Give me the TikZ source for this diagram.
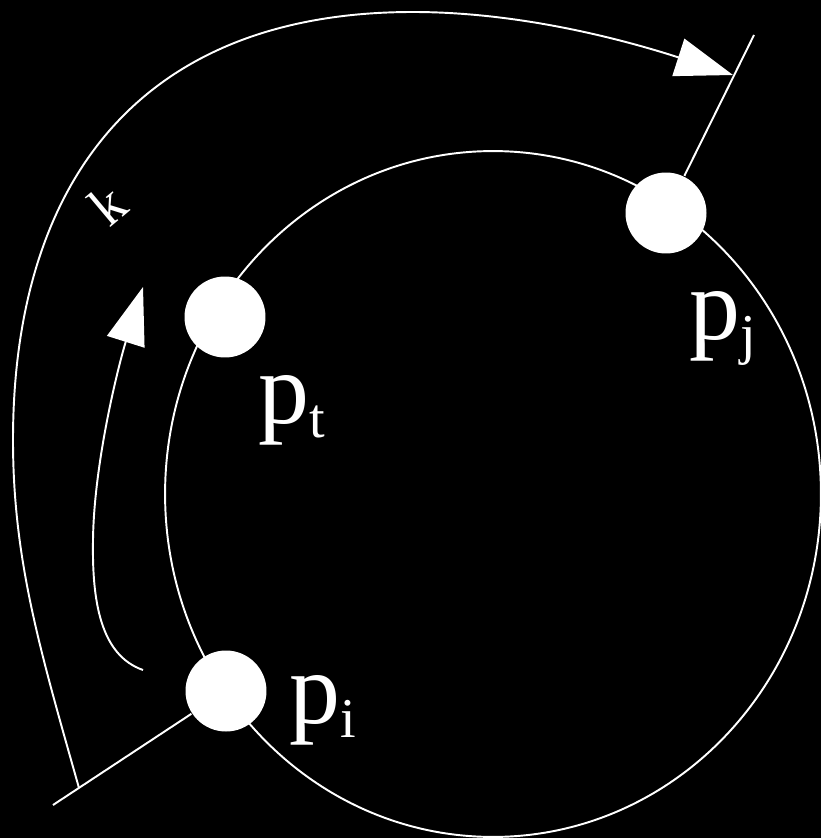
\documentclass[tikz,border=0pt]{standalone}
\usepackage{fontspec}
\setmainfont{Liberation Serif}
\usetikzlibrary{arrows.meta}
\newcommand{\lowidx}[1]{\raisebox{-0.3ex}{\fontsize{32}{34}\selectfont #1}}
\tikzset{
  every picture/.style={line width=1.1pt},
  site/.style={circle, fill=white, minimum size=1.62cm, inner sep=0pt},
  lbl/.style={text=white, inner sep=0pt, font=\fontsize{58}{60}\selectfont},
  track/.style={draw=white, line width=1.1pt},
  arrow/.style={track, -{Triangle[length=1.15cm, width=0.78cm]}},
}

\begin{document}
\begin{tikzpicture}[x=0.02cm, y=-0.02cm]
  \fill[black] (0,0) rectangle (821,838);
  \useasboundingbox (0,0) rectangle (821,838);
  % the ring
  \draw[track] (493,494) ellipse [x radius=6.56cm, y radius=6.86cm];
  \node[site] (pt) at (225,317) {};
  \node[site] (pj) at (666,213) {};
  \node[site] (pi) at (226,691) {};
  \coordinate (tailI) at (53,805);
  \coordinate (tickJ) at (754,35);
  \draw[track] (pi) -- (tailI);
  \draw[track] (pj) -- (tickJ);
  % k steps round the outside
  \draw[arrow] (79,788) .. controls (40,650) and (13,560) .. (13,440)
    .. controls (13,190) and (133,12) .. (413,12)
    .. controls (530,12) and (640,45) .. (733,75);
  \draw[arrow] (143,670) .. controls (100,655) and (92,600) .. (93,540)
    .. controls (94,460) and (120,360) .. (143,287);
  \node[lbl] (lt) at (292,410) {p\lowidx{t}};
  \node[lbl] (lj) at (723,328) {p\lowidx{j}};
  \node[lbl] (li) at (323,710) {p\lowidx{i}};
  \node[lbl, font=\fontsize{32}{34}\selectfont, rotate=40] (lk) at (108,205) {k};
\end{tikzpicture}
\end{document}
